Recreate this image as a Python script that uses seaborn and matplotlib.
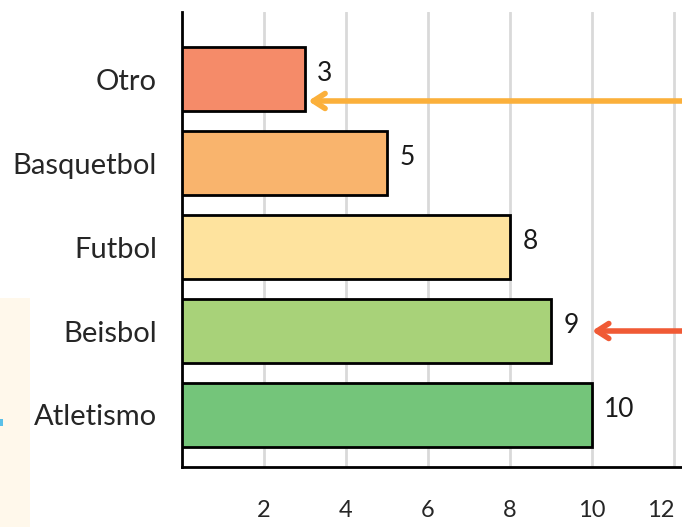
import matplotlib
matplotlib.use("Agg")
import matplotlib.pyplot as plt
import seaborn as sns
import pandas as pd
from matplotlib.patches import Rectangle

# Data
deportes = ["Otro", "Basquetbol", "Futbol", "Beisbol", "Atletismo"]
votos = [3, 5, 8, 9, 10]
colores = ["#F58B69", "#F9B46D", "#FEE39E", "#A8D279", "#74C57A"]
ticks_x = [2, 4, 6, 8, 10, 12]

df = pd.DataFrame({"deporte": deportes, "votos": votos})

sns.set_theme(style="white")
plt.rcParams["font.family"] = ["Lato", "DejaVu Sans"]

fig = plt.figure(figsize=(6.82, 5.27), dpi=100)
ax = fig.add_axes([182 / 682, 1 - 467 / 527, 512.5 / 682, 455 / 527])

# Cream side panel with a small blue mark
fig.patches.append(Rectangle((0, 0), 30 / 682, 229 / 527, transform=fig.transFigure,
                             facecolor="#FFF8EB", edgecolor="none", zorder=0))
fig.patches.append(Rectangle((0, 1 - 426 / 527), 3 / 682, 7 / 527, transform=fig.transFigure,
                             facecolor="#5BC0E8", edgecolor="none", zorder=1))

sns.barplot(data=df, x="votos", y="deporte", hue="deporte", palette=colores,
            order=deportes, orient="h", width=0.76, edgecolor="black",
            linewidth=2, saturation=1, legend=False, ax=ax, zorder=3)

ax.set_xlim(0, 12.5)
ax.set_ylim(4.62, -0.8)
ax.set_xticks(ticks_x)
ax.set_xticklabels([str(t) for t in ticks_x], fontsize=17)
ax.get_xticklabels()[-1].set_horizontalalignment("right")
ax.tick_params(axis="x", length=0, pad=24)
ax.tick_params(axis="y", length=0, pad=18, labelsize=21)
ax.set_xlabel("")
ax.set_ylabel("")
ax.grid(axis="x", color="#D9D9D9", linewidth=2, zorder=0)
ax.set_axisbelow(True)

for side in ["top", "right"]:
    ax.spines[side].set_visible(False)
for side in ["left", "bottom"]:
    ax.spines[side].set_color("black")
    ax.spines[side].set_linewidth(2)

# Value labels
for i, v in enumerate(votos):
    ax.text(v + 0.3, i - 0.07, str(v), fontsize=19, ha="left", va="center",
            color="#1a1a1a", zorder=4)

# Arrows pointing at highlighted rows
flechas = [(0, votos[0] + 0.08, 0.26, "#FBB03B"), (3, votos[3] + 1.0, 0.0, "#F05A35")]
for fila, cabeza, dy, color in flechas:
    ax.annotate("", xy=(cabeza, fila + dy), xytext=(13.5, fila + dy),
                xycoords="data", textcoords="data", annotation_clip=False,
                arrowprops=dict(arrowstyle="->,head_length=0.7,head_width=0.45",
                                color=color, lw=4, shrinkA=0, shrinkB=0),
                zorder=5)

fig.savefig("out.png", dpi=100)
